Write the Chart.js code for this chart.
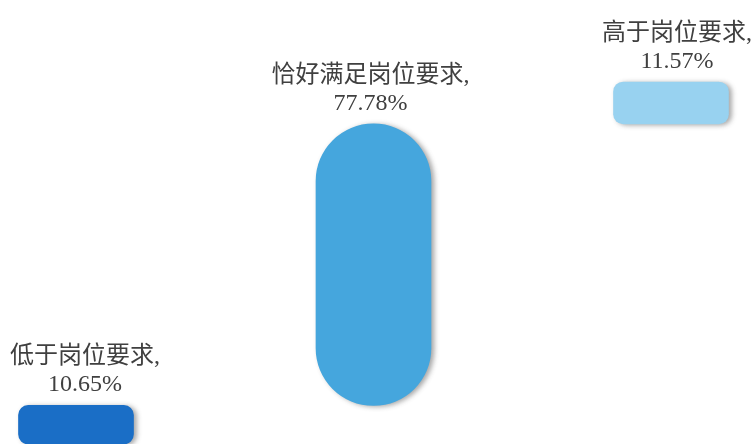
<!DOCTYPE html>
<html>
<head>
<meta charset="utf-8">
<script src="https://cdn.jsdelivr.net/npm/chart.js@4/dist/chart.umd.min.js"></script>
<style>
  html, body { margin: 0; padding: 0; background: #fff; }
  #wrap { width: 754px; height: 444px; }
</style>
</head>
<body>
<div id="wrap"><canvas id="myChart"></canvas></div>
<script>
const categories = ["低于岗位要求", "恰好满足岗位要求", "高于岗位要求"];
const values = [10.65, 77.78, 11.57];
const colors = ["#1A6EC6", "#45A6DD", "#98D2F0"];
const radii = [10, 58, 10];
const labelShift = [9, -3, 6];

// waterfall: each bar starts where the previous one ended
const ranges = [];
let start = 0;
values.forEach((v) => {
  ranges.push([start, start + v]);
  start += v;
});

const shadow = {
  id: "shadow",
  beforeDatasetDraw(chart) {
    const ctx = chart.ctx;
    ctx.save();
    ctx.shadowColor = "rgba(60,60,60,0.45)";
    ctx.shadowBlur = 5;
    ctx.shadowOffsetX = 3;
    ctx.shadowOffsetY = 1;
  },
  afterDatasetDraw(chart) {
    chart.ctx.restore();
  },
};

const labels = {
  id: "labels",
  afterDatasetsDraw(chart) {
    const ctx = chart.ctx;
    const meta = chart.getDatasetMeta(0);
    ctx.save();
    ctx.fillStyle = "#404040";
    ctx.textAlign = "center";
    ctx.textBaseline = "alphabetic";
    ctx.font = '24px "Liberation Serif", "Noto Sans CJK SC", serif';
    meta.data.forEach((bar, i) => {
      const x = bar.x + labelShift[i];
      ctx.fillText(categories[i] + ",", x, bar.y - 42);
      ctx.fillText(values[i].toFixed(2) + "%", x, bar.y - 14);
    });
    ctx.restore();
  },
};

new Chart(document.getElementById("myChart"), {
  type: "bar",
  data: {
    labels: categories,
    datasets: [
      {
        data: ranges,
        backgroundColor: colors,
        borderRadius: radii,
        borderSkipped: false,
        barThickness: 115,
        clip: false,
      },
    ],
  },
  options: {
    responsive: true,
    maintainAspectRatio: false,
    animation: false,
    layout: { padding: { left: 76, right: 83, top: 82, bottom: 0 } },
    plugins: { legend: { display: false }, tooltip: { enabled: false } },
    scales: {
      x: { display: false, offset: false, grid: { display: false } },
      y: { display: false, min: 0, max: 100 },
    },
  },
  plugins: [shadow, labels],
});
</script>
</body>
</html>
